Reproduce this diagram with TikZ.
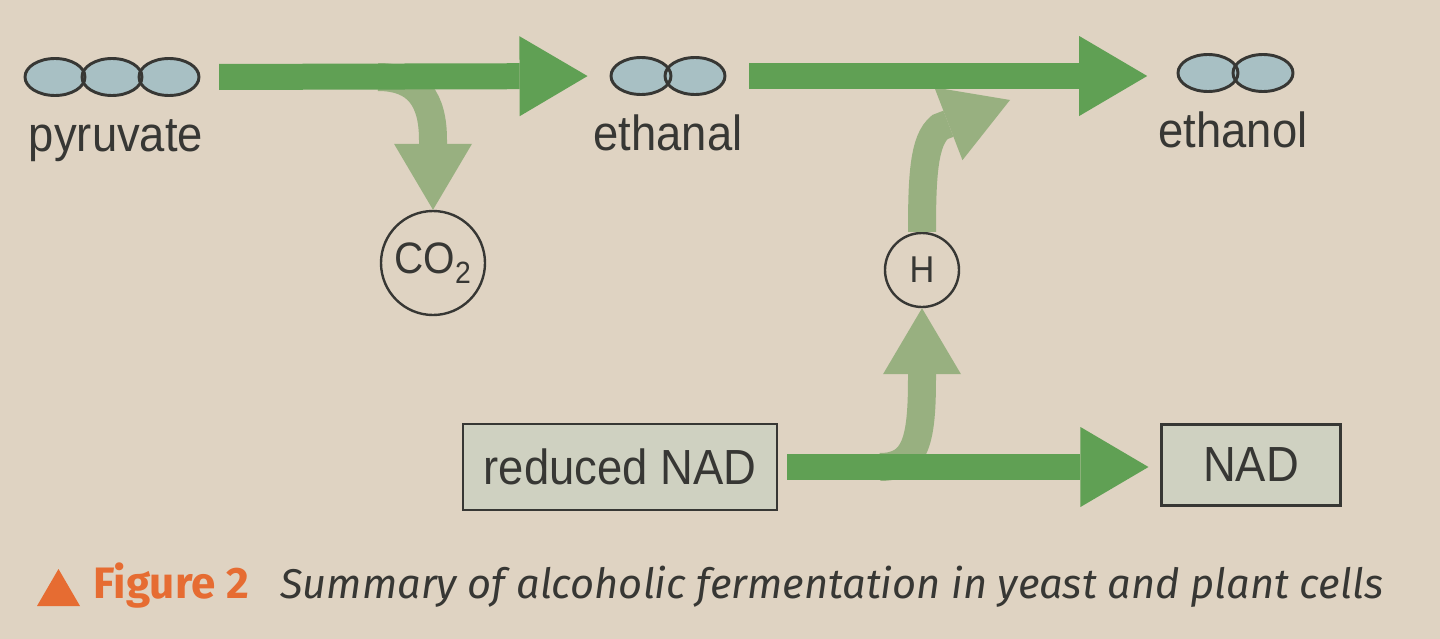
\documentclass[tikz,border=0pt]{standalone}
\usepackage{fontspec}
\usetikzlibrary{arrows.meta,shapes.geometric}
\newfontfamily\diagfont[FakeStretch=0.92]{Liberation Sans}
\newfontfamily\capfont{Fira Sans}

\definecolor{paper}{RGB}{223,211,194}
\definecolor{flowgreen}{RGB}{96,160,84}
\definecolor{sidegreen}{RGB}{152,176,128}
\definecolor{atomblue}{RGB}{168,192,196}
\definecolor{boxgrey}{RGB}{207,209,193}
\definecolor{inkgrey}{RGB}{55,55,52}
\definecolor{figorange}{RGB}{230,108,50}

\tikzset{every picture/.style={line width=0.75pt}}
\tikzset{
  atom/.style={ellipse, draw=inkgrey, line width=2.2pt, minimum width=45pt, minimum height=27.75pt, inner sep=0pt},
  lbl/.style={font=\diagfont\fontsize{37}{40}\selectfont, text=inkgrey, inner sep=0.75pt},
  subst/.style={draw=inkgrey, line width=1.8pt, fill=boxgrey, font=\diagfont\fontsize{37}{40}\selectfont, text=inkgrey, inner sep=0pt},
  mol/.style={circle, draw=inkgrey, line width=1.8pt, text=inkgrey, inner sep=0pt},
  mainflow/.style={draw=flowgreen, line width=19.5pt, -{Triangle[length=51pt,width=60pt,line width=0pt]}},
  sideflow/.style={draw=sidegreen, line width=21pt, -{Triangle[length=49.5pt,width=58.5pt,line width=0pt]}},
}

\begin{document}
\begin{tikzpicture}[x=0.75pt,y=0.75pt,yscale=-1,xscale=1]
\useasboundingbox (0,0) rectangle (1440,639);
\fill[paper] (0,0) rectangle (1440,639);

%Shape: Ellipse fills
\foreach \x/\y in {55/77,112/77,169/77,641/76,695/76,1208/73,1263/73}
  \fill[atomblue] (\x,\y) ellipse (30 and 18.5);
%Shape: Ellipse outlines
\node[atom] (pyr1) at (55,77) {};
\node[atom] (pyr2) at (112,77) {};
\node[atom] (pyr3) at (169,77) {};
\node[atom] (eal1) at (641,76) {};
\node[atom] (eal2) at (695,76) {};
\node[atom] (eol1) at (1208,73) {};
\node[atom] (eol2) at (1263,73) {};

% Text Node
\node[lbl, anchor=base] (pyrlbl) at (116,151) {pyruvate};
% Text Node
\node[lbl, anchor=base] (eallbl) at (668,150) {ethanal};
% Text Node
\node[lbl, anchor=base] (eollbl) at (1233,147) {ethanol};

%Shape: Circle
\node[mol, minimum size=78pt, font=\diagfont\fontsize{33}{36}\selectfont] (co2) at (433,263) {CO\textsubscript{2}};
%Shape: Circle
\node[mol, minimum size=55.5pt, font=\diagfont\fontsize{28}{30}\selectfont] (h) at (922,270) {H};

%Shape: Rectangle
\node[subst, minimum width=235.5pt, minimum height=64.5pt] (rnad) at (620,467) {reduced NAD};
%Shape: Rectangle
\node[subst, minimum width=134pt, minimum height=61pt] (nad) at (1251,465) {NAD};

%Curve Lines
\coordinate (co2fork) at (378,77);
\draw[sideflow] (co2fork) .. controls (418,77) and (433,100) .. (433,140) -- (co2.north);
%Curve Lines
\coordinate (hfork) at (880,467);
\draw[sideflow] (hfork) .. controls (916,467) and (922,440) .. (922,378) -- (h.south);
%Curve Lines
\coordinate (htip) at (1010,100);
\draw[sideflow] (h.north) .. controls (922,175) and (924,140) .. (940,127) -- (htip);

%Straight Lines
\draw[mainflow, shorten <=14pt, shorten >=16.5pt] (pyr3.east) -- (eal1.west);
%Straight Lines
\draw[mainflow, shorten <=17pt, shorten >=22pt] (eal2.east) -- (eal2.east -| eol1.west);
%Straight Lines
\draw[mainflow, shorten <=6.75pt, shorten >=9pt] (rnad.east) -- (rnad.east -| nad.west);

%Caption
\fill[figorange] (37,606) -- (80,606) -- (58.5,569) -- cycle;
% Text Node
\node[anchor=base west, inner sep=0pt, text=figorange, font=\capfont\bfseries\fontsize{33}{36}\selectfont] (fignum) at (93,598) {Figure 2};
% Text Node
\node[anchor=base west, inner sep=0pt, text=inkgrey, font=\capfont\itshape\fontsize{31.2}{34}\selectfont] (figtxt) at (280,598) {Summary of alcoholic fermentation in yeast and plant cells};

\end{tikzpicture}
\end{document}
